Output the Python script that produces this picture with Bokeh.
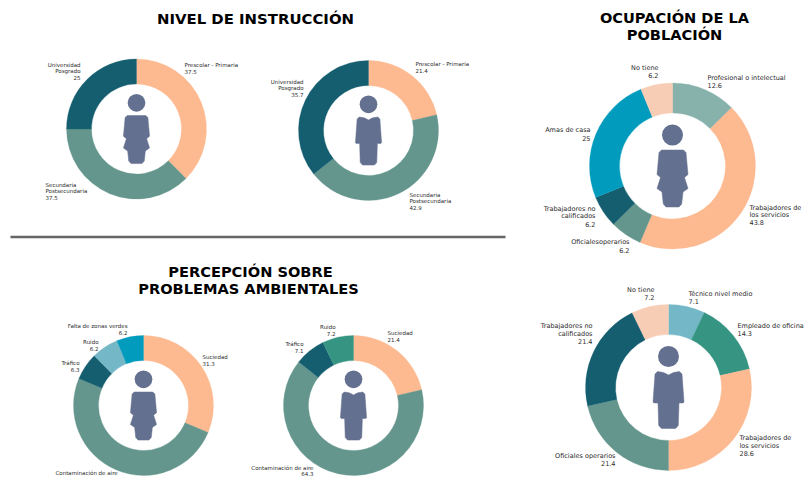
from math import pi
from bokeh.plotting import figure
from bokeh.models import Range1d, ColumnDataSource
from bokeh.core.properties import value
from bokeh.embed import file_html
from bokeh.resources import INLINE

# ---- data ----
nivel_mujer_cats = ["Prescolar - Primaria", "Secundaria Postsecundaria", "Universidad Posgrado"]
nivel_mujer_vals = [37.5, 37.5, 25]
nivel_hombre_cats = ["Prescolar - Primaria", "Secundaria Postsecundaria", "Universidad Posgrado"]
nivel_hombre_vals = [21.4, 42.9, 35.7]
ocup_mujer_cats = ["Profesional o intelectual", "Trabajadores de los servicios", "Oficialesoperarios",
                   "Trabajadores no calificados", "Amas de casa", "No tiene"]
ocup_mujer_vals = [12.6, 43.8, 6.2, 6.2, 25, 6.2]
ocup_hombre_cats = ["Técnico nivel medio", "Empleado de oficina", "Trabajadores de los servicios",
                    "Oficiales operarios", "Trabajadores no calificados", "No tiene"]
ocup_hombre_vals = [7.1, 14.3, 28.6, 21.4, 21.4, 7.2]
amb_mujer_cats = ["Suciedad", "Contaminación de aire", "Tráfico", "Ruido", "Falta de zonas verdes"]
amb_mujer_vals = [31.3, 50, 6.3, 6.2, 6.2]
amb_hombre_cats = ["Suciedad", "Contaminación de aire", "Tráfico", "Ruido"]
amb_hombre_vals = [21.4, 64.3, 7.1, 7.2]

PEACH, TEAL, DARK, BLUE, PALE, LTEAL, LBLUE, GREEN = (
    "#FDB98F", "#64968D", "#155E70", "#009BBD", "#F8CDB5", "#87B2AB", "#74B8C7", "#359482")
PERSON = "#64708F"
TXT = "#2B2B2B"

W, H = 805, 477


def X(px):
    return px


def Y(py):
    return H - py


p = figure(width=W, height=H, x_range=Range1d(0, W), y_range=Range1d(0, H),
           output_backend="svg", toolbar_location=None, min_border=0,
           background_fill_color="white", border_fill_color="white", outline_line_color=None)
p.axis.visible = False
p.grid.visible = False


def donut(vals, colors, cx, cy, R, r):
    total = sum(vals)
    starts, ends = [], []
    acc = 0.0
    for v in vals:
        starts.append(pi / 2 - 2 * pi * (acc + v) / total)
        ends.append(pi / 2 - 2 * pi * acc / total)
        acc += v
    src = ColumnDataSource(dict(start=starts, end=ends, color=colors,
                                x=[X(cx)] * len(vals), y=[Y(cy)] * len(vals)))
    p.annular_wedge(x="x", y="y", inner_radius=r, outer_radius=R, start_angle="start", end_angle="end",
                    fill_color="color", line_color="color", line_width=0.3, source=src)


FEMALE = [(-11, -16), (11, -16), (13.5, -13.5), (15.5, 8.5), (12, 11.5), (15.5, 22.5), (10.5, 26),
          (9.2, 38), (6.5, 41), (-6.5, 41), (-9.2, 38), (-10.5, 26), (-15.5, 22.5), (-12, 11.5),
          (-15.5, 8.5), (-13.5, -13.5)]
MALE = [(-11, -16), (-5, -15), (0, -12.5), (5, -15), (11, -16), (13.5, -13.5), (15.5, 14.5), (14.5, 15.5),
        (10.5, 15.5), (9.8, 38), (7, 41), (-7, 41), (-9.8, 38), (-10.5, 15.5), (-14.5, 15.5), (-15.5, 14.5),
        (-13.5, -13.5)]


def person(shape, cx, cy, s):
    p.patch([X(cx + dx * s) for dx, _ in shape], [Y(cy + dy * s) for _, dy in shape],
            fill_color=PERSON, line_color=PERSON, line_width=0.5)
    p.circle([X(cx)], [Y(cy - 31 * s)], radius=10.5 * s, fill_color=PERSON, line_color=None)


def label(lines, x, ys, align, size):
    p.text([X(x)] * len(lines), [Y(y) for y in ys], text=lines, text_font=value("DejaVu Sans"),
           text_font_size=size, text_color=TXT, text_align=align, text_baseline="middle")


def title(text, x, y, size="14.6px"):
    p.text([X(x)], [Y(y)], text=[text], text_font=value("DejaVu Sans"), text_font_size=size,
           text_font_style="bold", text_color="#000000", text_align="center", text_baseline="middle")


# donuts
donut(nivel_mujer_vals, [PEACH, TEAL, DARK], 136, 128.5, 70, 45)
donut(nivel_hombre_vals, [PEACH, TEAL, DARK], 368, 130, 70, 45)
donut(ocup_mujer_vals, [LTEAL, PEACH, TEAL, DARK, BLUE, PALE], 672, 165.5, 83, 53)
donut(ocup_hombre_vals, [LBLUE, GREEN, PEACH, TEAL, DARK, PALE], 668, 387, 83, 53)
donut(amb_mujer_vals, [PEACH, TEAL, DARK, LBLUE, BLUE], 143, 405, 70, 45)
donut(amb_hombre_vals, [PEACH, TEAL, DARK, GREEN], 353, 405, 70, 45)

# figures
person(FEMALE, 136, 128.5, 70 / 83)
person(MALE, 368, 130, 70 / 83)
person(FEMALE, 672, 165.5, 1)
person(MALE, 668, 387, 1)
person(FEMALE, 143, 405, 70 / 83)
person(MALE, 353, 405, 70 / 83)

# divider
p.line([X(10), X(505)], [Y(236.5), Y(236.5)], line_color="#666666", line_width=2.5)

# titles
title("NIVEL DE INSTRUCCIÓN", 255, 18.5, "14.9px")
title("OCUPACIÓN DE LA", 674, 16.5)
title("POBLACIÓN", 674, 33.5)
title("PERCEPCIÓN SOBRE", 250, 270.5)
title("PROBLEMAS AMBIENTALES", 248, 287.5)

S, M = "5.5px", "6.5px"
# nivel mujer
label(["Prescolar - Primaria", str(nivel_mujer_vals[0])], 184, [64, 70.5], "left", S)
label(["Secundaria", "Postsecundaria", str(nivel_mujer_vals[1])], 45, [184.5, 190.5, 197], "left", S)
label(["Universidad", "Posgrado", str(nivel_mujer_vals[2])], 80, [64, 70.5, 77], "right", S)
# nivel hombre
label(["Prescolar - Primaria", str(nivel_hombre_vals[0])], 415, [63, 69.5], "left", S)
label(["Secundaria", "Postsecundaria", str(nivel_hombre_vals[1])], 409, [194, 200.5, 207], "left", S)
label(["Universidad", "Posgrado", str(nivel_hombre_vals[2])], 303, [81, 87.5, 94], "right", S)
# ocupacion mujer
label(["Profesional o intelectual", str(ocup_mujer_vals[0])], 707, [77.7, 84.5], "left", M)
label(["Trabajadores de", "los servicios", str(ocup_mujer_vals[1])], 749, [207, 214.5, 222], "left", M)
label(["Oficialesoperarios", str(ocup_mujer_vals[2])], 629, [241.7, 249.7], "right", M)
label(["Trabajadores no", "calificados", str(ocup_mujer_vals[3])], 595, [208, 215.5, 224], "right", M)
label(["Amas de casa", str(ocup_mujer_vals[4])], 590, [129.7, 137.5], "right", M)
label(["No tiene", str(ocup_mujer_vals[5])], 658, [67, 75], "right", M)
# ocupacion hombre
label(["Técnico nivel medio", str(ocup_hombre_vals[0])], 688, [293, 301], "left", M)
label(["Empleado de oficina", str(ocup_hombre_vals[1])], 737, [325, 332.5], "left", M)
label(["Trabajadores de", "los servicios", str(ocup_hombre_vals[2])], 739, [437, 445, 453], "left", M)
label(["Oficiales operarios", str(ocup_hombre_vals[3])], 615, [455, 463], "right", M)
label(["Trabajadores no", "calificados", str(ocup_hombre_vals[4])], 592, [325.7, 333, 341], "right", M)
label(["No tiene", str(ocup_hombre_vals[5])], 654, [289.7, 297], "right", M)
# ambiente mujer
label(["Suciedad", str(amb_mujer_vals[0])], 202, [356, 363], "left", S)
label(["Contaminación de aire"], 55, [472], "left", S)
label(["Tráfico", str(amb_mujer_vals[2])], 79, [362, 368.5], "right", S)
label(["Ruido", str(amb_mujer_vals[3])], 98, [341, 348], "right", S)
label(["Falta de zonas verdes", str(amb_mujer_vals[4])], 127, [325, 332], "right", S)
# ambiente hombre
label(["Suciedad", str(amb_hombre_vals[0])], 387, [332, 339], "left", S)
label(["Contaminación de aire", str(amb_hombre_vals[1])], 313, [467, 473], "right", S)
label(["Tráfico", str(amb_hombre_vals[2])], 303, [343, 350], "right", S)
label(["Ruido", str(amb_hombre_vals[3])], 335, [326, 333], "right", S)

open("out.html", "w").write(file_html(p, INLINE))
